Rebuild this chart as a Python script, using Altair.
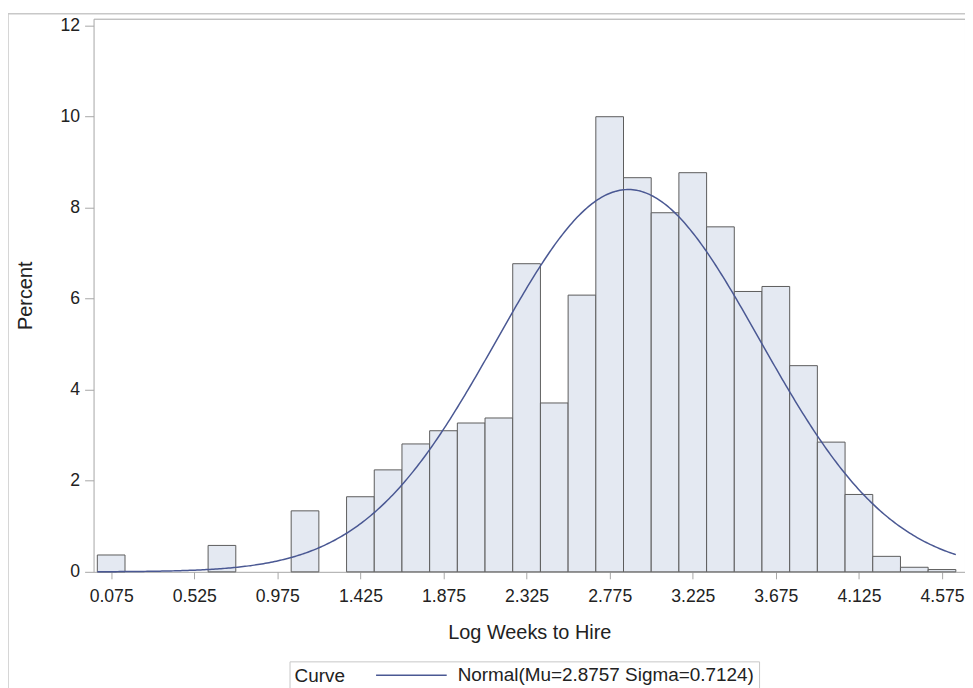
import altair as alt
import pandas as pd

# ---- data ----
bin_mid = [0.075, 0.225, 0.375, 0.525, 0.675, 0.825, 0.975, 1.125, 1.275, 1.425,
           1.575, 1.725, 1.875, 2.025, 2.175, 2.325, 2.475, 2.625, 2.775, 2.925,
           3.075, 3.225, 3.375, 3.525, 3.675, 3.825, 3.975, 4.125, 4.275, 4.425, 4.575]
percent = [0.37, 0.0, 0.0, 0.0, 0.58, 0.0, 0.0, 1.34, 0.0, 1.65,
           2.24, 2.81, 3.10, 3.27, 3.38, 6.77, 3.71, 6.08, 10.0, 8.66,
           7.89, 8.77, 7.58, 6.16, 6.27, 4.53, 2.85, 1.70, 0.34, 0.10, 0.05]
BIN_WIDTH = 0.15
x_ticks = [0.075, 0.525, 0.975, 1.425, 1.875, 2.325, 2.775, 3.225, 3.675, 4.125, 4.575]
y_ticks = [0, 2, 4, 6, 8, 10, 12]
MU = 2.8757
SIGMA = 0.7124
curve_label = f"Normal(Mu={MU} Sigma={SIGMA})"

FONT = "Liberation Sans"
BAR_FILL = "#e4e9f2"
BAR_STROKE = "#5c5c5c"
CURVE_COLOR = "#4a5893"
FRAME = "#a6a6a6"

hist = pd.DataFrame({"mid": bin_mid, "pct": percent})

x_scale = alt.Scale(domain=[-0.0204, 4.6996], nice=False, zero=False)
y_scale = alt.Scale(domain=[0, 12.153], nice=False, zero=True)

x_axis = alt.Axis(values=x_ticks, format=".3f", title="Log Weeks to Hire",
                  grid=False, domain=False, tickSize=7, labelPadding=9,
                  titlePadding=17, labelFlush=False, labelOverlap=False)
y_axis = alt.Axis(values=y_ticks, format="d", title="Percent", grid=False,
                  domain=False, tickSize=9, labelPadding=5, titlePadding=25)

bars = alt.Chart(hist).transform_filter("datum.pct > 0").transform_calculate(
    lo=f"datum.mid - {BIN_WIDTH}/2", hi=f"datum.mid + {BIN_WIDTH}/2"
).mark_rect(fill=BAR_FILL, stroke=BAR_STROKE, strokeWidth=1).encode(
    x=alt.X("lo:Q", scale=x_scale, axis=x_axis),
    x2="hi:Q",
    y=alt.Y("pct:Q", scale=y_scale, axis=y_axis),
    y2=alt.datum(0),
)

curve = alt.Chart(alt.sequence(0, 4.6501, 0.01, as_="x")).transform_calculate(
    pct=f"100*{BIN_WIDTH}*densityNormal(datum.x, {MU}, {SIGMA})",
    label=f"'{curve_label}'",
).mark_line(strokeWidth=1.5).encode(
    x=alt.X("x:Q", scale=x_scale),
    y=alt.Y("pct:Q", scale=y_scale),
    color=alt.Color("label:N", scale=alt.Scale(range=[CURVE_COLOR]),
                    legend=alt.Legend(title="Curve", orient="none",
                                      legendX=197, legendY=646,
                                      titleOrient="left", titlePadding=30,
                                      titleBaseline="middle",
                                      symbolType="stroke", symbolSize=5041,
                                      symbolStrokeWidth=1.5, clipHeight=18,
                                      labelOffset=10, labelLimit=500,
                                      padding=5, strokeColor="#c8c8c8")),
)

border = alt.Chart(alt.Data(values=[{}])).mark_rect(
    fill=None, stroke="#c8c8c8", strokeWidth=1.5
).encode(x=alt.value(-86), x2=alt.value(900), y=alt.value(-5), y2=alt.value(720))

chart = alt.layer(border, bars, curve).properties(
    width=876, height=556,
    autosize=alt.AutoSizeParams(type="none"),
    padding={"left": 86, "top": 9, "right": 0, "bottom": 115},
).configure_view(stroke=FRAME, strokeWidth=1).configure_axis(
    labelFont=FONT, titleFont=FONT, labelFontSize=17.7, titleFontSize=20,
    titleFontWeight="normal", labelColor="#222", titleColor="#222",
    tickColor=FRAME,
).configure_legend(
    labelFont=FONT, titleFont=FONT, labelFontSize=19, titleFontSize=19,
    titleFontWeight="normal", labelColor="#222", titleColor="#222",
)

chart.save("out.html", embed_options={"renderer": "svg", "actions": False})
